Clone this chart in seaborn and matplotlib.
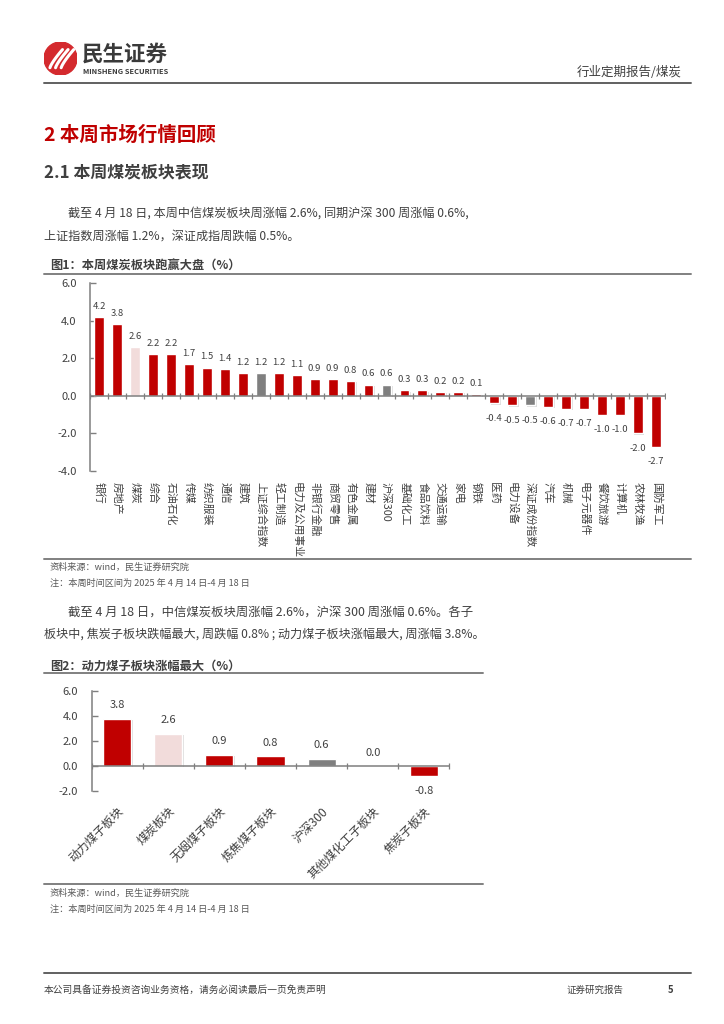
import numpy as np
import pandas as pd
import matplotlib
matplotlib.use("Agg")
import matplotlib.pyplot as plt
import matplotlib.patheffects as pe
from matplotlib.lines import Line2D
from matplotlib.patches import Circle
from matplotlib.ticker import FormatStrFormatter
import seaborn as sns

# ---- data ----
sectors = ["银行", "房地产", "煤炭", "综合", "石油石化", "传媒", "纺织服装", "通信", "建筑",
           "上证综合指数", "轻工制造", "电力及公用事业", "非银行金融", "商贸零售", "有色金属",
           "建材", "沪深300", "基础化工", "食品饮料", "交通运输", "家电", "钢铁", "医药",
           "电力设备", "深证成份指数", "汽车", "机械", "电子元器件", "餐饮旅游", "计算机",
           "农林牧渔", "国防军工"]
sector_chg = [4.2, 3.8, 2.6, 2.2, 2.2, 1.7, 1.5, 1.4, 1.2, 1.2, 1.2, 1.1, 0.9, 0.9, 0.8,
              0.6, 0.6, 0.3, 0.3, 0.2, 0.2, 0.1, -0.4, -0.5, -0.5, -0.6, -0.7, -0.7, -1.0,
              -1.0, -2.0, -2.7]
sector_kind = ["s", "s", "coal", "s", "s", "s", "s", "s", "s", "idx", "s", "s", "s", "s", "s",
               "s", "idx", "s", "s", "s", "s", "s", "s", "s", "idx", "s", "s", "s", "s", "s",
               "s", "s"]

sub_names = ["动力煤子板块", "煤炭板块", "无烟煤子板块", "炼焦煤子板块", "沪深300",
             "其他煤化工子板块", "焦炭子板块"]
sub_chg = [3.8, 2.6, 0.9, 0.8, 0.6, 0.0, -0.8]
sub_kind = ["s", "coal", "s", "s", "idx", "s", "s"]

RED = "#C00000"
PINK = "#F2DCDB"
GREY = "#7F7F7F"
TXT = "#404040"
kind_color = {"s": RED, "coal": PINK, "idx": GREY}

sns.set_theme(style="white")
plt.rcParams["font.family"] = ["Noto Sans CJK SC", "DejaVu Sans"]
plt.rcParams["axes.unicode_minus"] = False

W, H = 724, 1024
fig = plt.figure(figsize=(7.24, 10.24), dpi=100)


def fx(x):
    return x / W


def fy(y):
    return 1 - y / H


def page_text(x, y, s, **kw):
    kw.setdefault("color", TXT)
    kw.setdefault("va", "center")
    fig.text(fx(x), fy(y), s, **kw)


def page_line(x0, x1, y, color="#808080", lw=1.4):
    fig.add_artist(Line2D([fx(x0), fx(x1)], [fy(y), fy(y)], transform=fig.transFigure,
                          color=color, lw=lw))


def axes_px(left, top, right, bottom):
    return fig.add_axes([fx(left), fy(bottom), (right - left) / W, (bottom - top) / H])


def bar_chart(ax, names, vals, kinds, ylim, width, lab_size, pos_off, neg_off):
    df = pd.DataFrame({"name": names, "chg": vals})
    pal = {n: kind_color[k] for n, k in zip(names, kinds)}
    sns.barplot(data=df, x="name", y="chg", hue="name", palette=pal, width=width,
                saturation=1, legend=False, ax=ax)
    for p in ax.patches:
        p.set_path_effects([pe.SimplePatchShadow(offset=(1.0, -1.0), shadow_rgbFace="#aaaaaa",
                                                 alpha=0.4), pe.Normal()])
    n = len(names)
    ax.set_xlim(-0.5, n - 0.5)
    ax.set_ylim(*ylim)
    ax.axhline(0, color=GREY, lw=1.1, zorder=3)
    ax.plot(np.arange(n + 1) - 0.5, np.zeros(n + 1), ls="none", marker="|", ms=4,
            mew=0.9, color=GREY, zorder=3)
    for i, v in enumerate(vals):
        if v >= 0:
            ax.annotate(f"{v:.1f}", (i, v), xytext=(0, pos_off), textcoords="offset points",
                        ha="center", va="bottom", fontsize=lab_size, color=TXT)
        else:
            ax.annotate(f"{v:.1f}", (i, v), xytext=(0, -neg_off), textcoords="offset points",
                        ha="center", va="top", fontsize=lab_size, color=TXT)
    for s in ["top", "right", "bottom"]:
        ax.spines[s].set_visible(False)
    ax.spines["left"].set_color(GREY)
    ax.spines["left"].set_linewidth(1.1)
    ax.set_yticks(np.arange(ylim[0], ylim[1] + 0.1, 2))
    ax.yaxis.set_major_formatter(FormatStrFormatter("%.1f"))
    ax.tick_params(axis="y", direction="in", length=4, width=1, color=GREY,
                   labelsize=8, labelcolor=TXT, pad=9.5, left=True)
    ax.set_xlabel("")
    ax.set_ylabel("")


# ---- header ----
logo = axes_px(44, 42, 77, 75)
logo.set_xlim(0, 1)
logo.set_ylim(0, 1)
logo.set_aspect("equal")
logo.axis("off")
logo.add_patch(Circle((0.5, 0.5), 0.5, color="#D42A2E"))
for dx in [0.0, 0.17, 0.34]:
    t = np.linspace(0, 1, 20)
    logo.plot(0.18 + dx + 0.38 * t, 0.22 + 0.55 * t ** 0.8, color="white", lw=2.2,
              solid_capstyle="round")
page_text(82, 54, "民生证券", fontsize=15.5, fontweight="bold", color="#3A3A3A")
page_text(83, 71, "MINSHENG SECURITIES", fontsize=5.4, fontweight="bold", color="#3A3A3A")
page_text(682, 72, "行业定期报告/煤炭", fontsize=9, ha="right")
page_line(44, 691, 83, color="#606060", lw=1.4)

# ---- headings and text ----
page_text(44, 135, "2 本周市场行情回顾", fontsize=14, fontweight="bold", color=RED)
page_text(44, 172, "2.1 本周煤炭板块表现", fontsize=12.2, fontweight="bold", color=TXT)
page_text(68, 213, "截至 4 月 18 日, 本周中信煤炭板块周涨幅 2.6%, 同期沪深 300 周涨幅 0.6%,",
          fontsize=8.7)
page_text(44, 236, "上证指数周涨幅 1.2%，深证成指周跌幅 0.5%。", fontsize=8.7)

page_text(50, 266, "图1：本周煤炭板块跑赢大盘（%）", fontsize=8.8, fontweight="bold")
page_line(44, 691, 274)

# ---- chart 1 ----
ax1 = axes_px(90, 283, 665, 471)
bar_chart(ax1, sectors, sector_chg, sector_kind, (-4, 6), 0.55, 6.8, 4.5, 7.5)
ax1.set_xticks(range(len(sectors)))
ax1.set_xticklabels(sectors, rotation=-90, ha="center", va="top", fontsize=7.8, color=TXT)
ax1.tick_params(axis="x", length=0, pad=8)

page_line(44, 691, 559)
page_text(50, 567, "资料来源：wind，民生证券研究院", fontsize=6.6, color="#595959")
page_text(50, 583, "注：本周时间区间为 2025 年 4 月 14 日-4 月 18 日", fontsize=6.6,
          color="#595959")

page_text(68, 612, "截至 4 月 18 日，中信煤炭板块周涨幅 2.6%，沪深 300 周涨幅 0.6%。各子",
          fontsize=8.9)
page_text(44, 634, "板块中, 焦炭子板块跌幅最大, 周跌幅 0.8% ; 动力煤子板块涨幅最大, 周涨幅 3.8%。",
          fontsize=8.7)

page_text(50, 666, "图2：动力煤子板块涨幅最大（%）", fontsize=8.8, fontweight="bold")
page_line(44, 483, 673)

# ---- chart 2 ----
ax2 = axes_px(91.5, 691, 449.5, 791)
bar_chart(ax2, sub_names, sub_chg, sub_kind, (-2, 6), 0.55, 8, 6, 7)
ax2.set_xticks(range(len(sub_names)))
ax2.set_xticklabels(sub_names, rotation=45, ha="right", va="top", rotation_mode="anchor",
                    fontsize=8.6, color=TXT)
ax2.tick_params(axis="x", length=0, pad=10)

page_line(44, 483, 884)
page_text(50, 893, "资料来源：wind，民生证券研究院", fontsize=6.6, color="#595959")
page_text(50, 909, "注：本周时间区间为 2025 年 4 月 14 日-4 月 18 日", fontsize=6.6,
          color="#595959")

# ---- footer ----
page_line(44, 691, 973, color="#606060", lw=1.4)
page_text(44, 990, "本公司具备证券投资咨询业务资格，请务必阅读最后一页免责声明", fontsize=7)
page_text(567, 990, "证券研究报告", fontsize=6.8)
page_text(668, 990, "5", fontsize=6.8, fontweight="bold")

fig.savefig("out.png", dpi=100)
